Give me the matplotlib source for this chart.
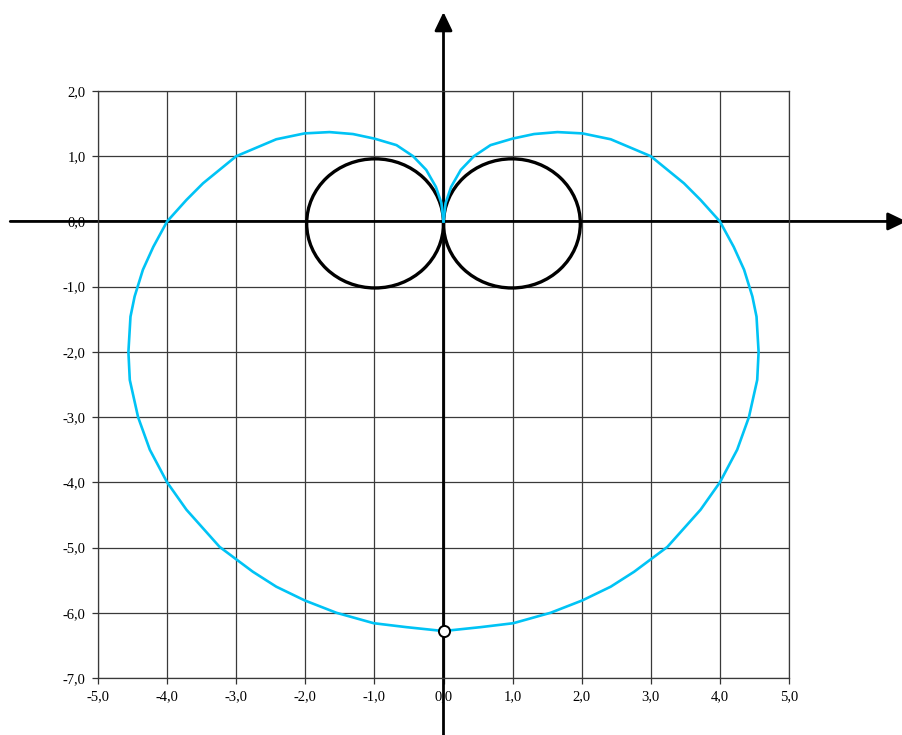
## plot two circles and the outer curve on a cartesian grid
import matplotlib
matplotlib.use('Agg')
import matplotlib.pyplot as plt
from matplotlib.patches import Circle
import numpy

## data
# right half of the blue curve, from the origin round to the bottom point
curve_x=[0.0,0.03,0.11,0.25,0.44,0.68,1.0,1.31,1.65,2.01,2.42,3.0,3.48,3.72,
         4.0,4.2,4.35,4.47,4.53,4.56,4.54,4.42,4.25,4.0,3.72,3.24,3.0,2.76,
         2.42,2.01,1.55,1.01,0.54,0.0]
curve_y=[0.0,0.28,0.53,0.79,1.0,1.17,1.27,1.34,1.37,1.35,1.26,1.0,0.585,0.33,
         0.0,-0.39,-0.74,-1.15,-1.46,-2.0,-2.43,-3.0,-3.5,-4.0,-4.42,-4.99,
         -5.18,-5.37,-5.6,-5.81,-6.0,-6.16,-6.22,-6.28]
# black circles
circle_cx=[-0.99,0.99]
circle_cy=[-0.03,-0.03]
circle_r=[0.99,0.99]
# open marker at the bottom of the curve
point_x=[0.0]
point_y=[-6.28]
# ticks
xticks=[-5,-4,-3,-2,-1,0,1,2,3,4,5]
yticks=[2,1,0,-1,-2,-3,-4,-5,-6,-7]

def commalabel(v):
    return ('%.1f'%v).replace('.',',')

## figure
plt.rcParams['font.family']=['Liberation Serif','DejaVu Serif']
fig=plt.figure(figsize=(9.02,7.35),dpi=100)
ax=fig.add_axes([98/902,1-678/735,(789-98)/902,(678-91)/735])
ax.set_xlim(-5,5)
ax.set_ylim(-7,2)
ax.set_xticks(xticks)
ax.set_yticks(yticks)
ax.set_xticklabels([commalabel(v) for v in xticks])
ax.set_yticklabels([commalabel(v) for v in yticks])
ax.tick_params(direction='out',length=4,width=0.9,color='#333333',
               labelsize=10.5,pad=5)
ax.grid(True,color='#3a3a3a',linewidth=0.9,zorder=0)
ax.set_axisbelow(True)
for s in ax.spines.values():
    s.set_color('#3a3a3a')
    s.set_linewidth(0.9)

## axes with arrows
ax.annotate('',xy=(6.7,0),xytext=(-6.27,0),xycoords='data',
            arrowprops=dict(arrowstyle='-|>,head_length=0.75,head_width=0.36',
                            lw=2.0,color='black',shrinkA=0,shrinkB=0,
                            mutation_scale=15),
            annotation_clip=False,zorder=2)
ax.annotate('',xy=(0,3.21),xytext=(0,-8.2),xycoords='data',
            arrowprops=dict(arrowstyle='-|>,head_length=0.75,head_width=0.36',
                            lw=2.0,color='black',shrinkA=0,shrinkB=0,
                            mutation_scale=15),
            annotation_clip=False,zorder=2)

## circles
for i in range(len(circle_cx)):
    ax.add_patch(Circle((circle_cx[i],circle_cy[i]),circle_r[i],fill=False,
                        edgecolor='black',linewidth=2.4,zorder=3))

## blue curve, left half is the mirror of the right half
cx=numpy.array(curve_x)
cy=numpy.array(curve_y)
ax.plot(cx,cy,color='#00c3f5',linewidth=1.9,zorder=4,solid_joinstyle='round')
ax.plot(-cx,cy,color='#00c3f5',linewidth=1.9,zorder=4,solid_joinstyle='round')

ax.plot(point_x,point_y,'o',markersize=8,markerfacecolor='white',
        markeredgecolor='black',markeredgewidth=1.4,zorder=5,clip_on=False)

fig.savefig('out.png',dpi=100)
